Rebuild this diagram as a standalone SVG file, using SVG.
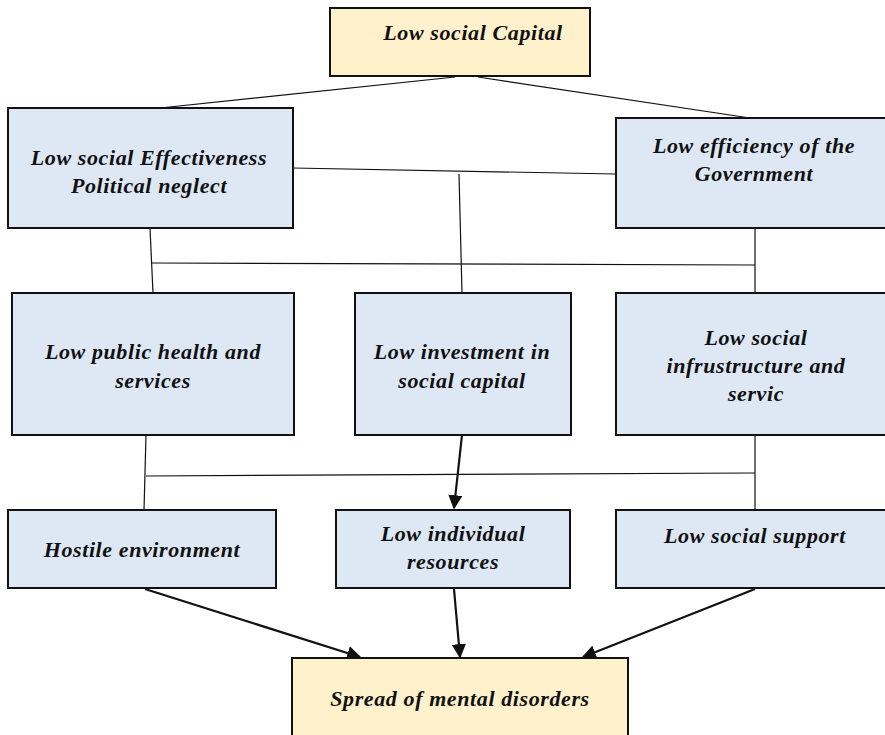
<svg xmlns="http://www.w3.org/2000/svg" width="885" height="735" viewBox="0 0 885 735">
  <style>
    .box { fill: #dde8f4; stroke: #111; stroke-width: 2; }
    .key { fill: #fff1cc; stroke: #111; stroke-width: 2; }
    .lbl { font-family: "Liberation Serif", "Times New Roman", serif; font-size: 22px; letter-spacing: 0.6px; font-weight: 700; font-style: italic; fill: #111; text-anchor: middle; }
    .thin { stroke: #111; stroke-width: 1.2; fill: none; }
    .arr { stroke: #111; stroke-width: 2.2; fill: none; marker-end: url(#head); }
  </style>
  <defs>
    <marker id="head" viewBox="0 0 10 10" refX="9" refY="5" markerWidth="6.5" markerHeight="6.5" markerUnits="strokeWidth" orient="auto">
      <path d="M0,0 L10,5 L0,10 z" fill="#111"/>
    </marker>
  </defs>
  <rect width="885" height="735" fill="#fff"/>

  <g id="connectors">
    <line class="thin" x1="455" y1="77" x2="160" y2="108"/>
    <line class="thin" x1="478" y1="77" x2="750" y2="118"/>
    <line class="thin" x1="293" y1="168" x2="616" y2="174"/>
    <line class="thin" x1="459" y1="174" x2="462" y2="293"/>
    <line class="thin" x1="150" y1="228" x2="153" y2="293"/>
    <line class="thin" x1="152" y1="263" x2="755" y2="265"/>
    <line class="thin" x1="755" y1="228" x2="755" y2="293"/>
    <line class="thin" x1="146" y1="435" x2="144" y2="510"/>
    <line class="thin" x1="146" y1="476" x2="755" y2="473"/>
    <line class="thin" x1="755" y1="435" x2="755" y2="510"/>
    <line class="arr" x1="462" y1="435" x2="454" y2="508"/>
    <line class="arr" x1="145" y1="589" x2="360" y2="657"/>
    <line class="arr" x1="454" y1="589" x2="460" y2="657"/>
    <line class="arr" x1="755" y1="589" x2="583" y2="657"/>
  </g>

  <g id="low-social-capital">
    <rect class="key" x="330" y="8" width="260" height="68"/>
    <text class="lbl" x="473" y="40">Low social Capital</text>
  </g>
  <g id="social-effectiveness">
    <rect class="box" x="8" y="108" width="285" height="120"/>
    <text class="lbl" x="149" y="165">Low social Effectiveness</text>
    <text class="lbl" x="149" y="193">Political neglect</text>
  </g>
  <g id="government-efficiency">
    <rect class="box" x="616" y="118" width="275" height="110"/>
    <text class="lbl" x="754" y="153">Low efficiency of the</text>
    <text class="lbl" x="754" y="181">Government</text>
  </g>
  <g id="public-health">
    <rect class="box" x="12" y="293" width="282" height="142"/>
    <text class="lbl" x="153" y="359">Low public health and</text>
    <text class="lbl" x="153" y="388">services</text>
  </g>
  <g id="social-investment">
    <rect class="box" x="355" y="293" width="216" height="142"/>
    <text class="lbl" x="462" y="359">Low investment in</text>
    <text class="lbl" x="462" y="388">social capital</text>
  </g>
  <g id="social-infrastructure">
    <rect class="box" x="616" y="293" width="275" height="142"/>
    <text class="lbl" x="756" y="345">Low social</text>
    <text class="lbl" x="756" y="373">infrustructure and</text>
    <text class="lbl" x="756" y="401">servic</text>
  </g>
  <g id="hostile-environment">
    <rect class="box" x="8" y="510" width="268" height="78"/>
    <text class="lbl" x="142" y="557">Hostile environment</text>
  </g>
  <g id="individual-resources">
    <rect class="box" x="336" y="510" width="234" height="78"/>
    <text class="lbl" x="453" y="541">Low individual</text>
    <text class="lbl" x="453" y="569">resources</text>
  </g>
  <g id="social-support">
    <rect class="box" x="616" y="510" width="275" height="78"/>
    <text class="lbl" x="755" y="543">Low social support</text>
  </g>
  <g id="mental-disorders">
    <rect class="key" x="292" y="658" width="336" height="90"/>
    <text class="lbl" x="460" y="706">Spread of mental disorders</text>
  </g>
</svg>
